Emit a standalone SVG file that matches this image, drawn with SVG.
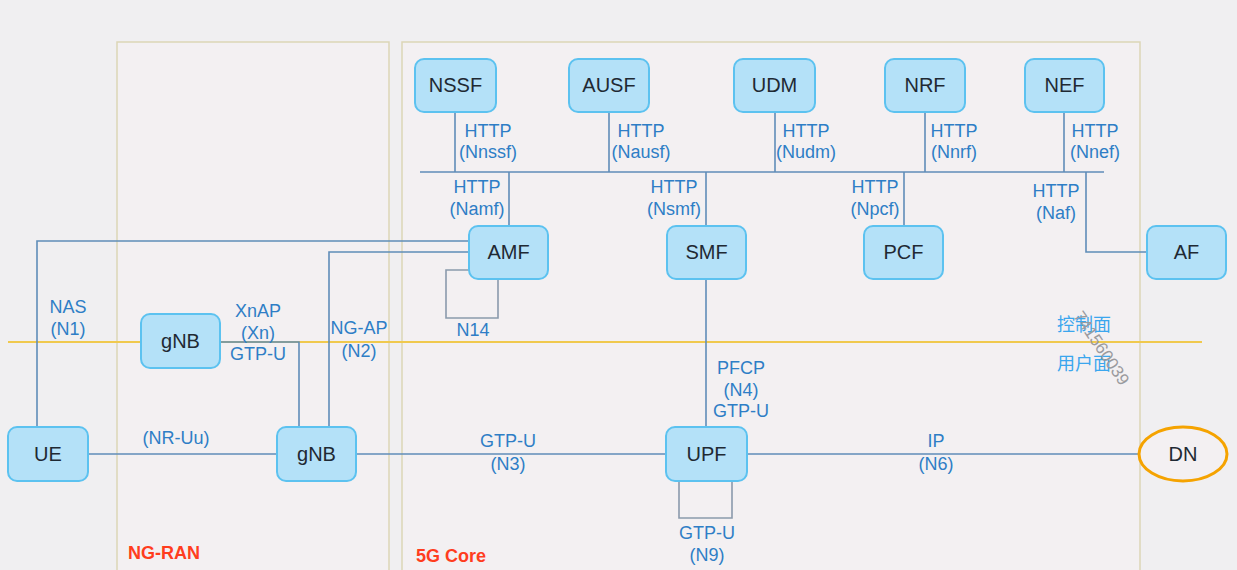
<svg xmlns="http://www.w3.org/2000/svg" width="1237" height="570" viewBox="0 0 1237 570">
<defs>
<style>
.bg{fill:#f0eff1}
.region{fill:#f3f0f2;stroke:#dcd6b6;stroke-width:1.5}
.node rect{fill:#b4e1f8;stroke:#5cc2f0;stroke-width:2}
.node text{font-family:"Liberation Sans",Arial,sans-serif;font-size:20px;fill:#1f2933;text-anchor:middle}
.ln{fill:none;stroke:#5f8db8;stroke-width:1.6}
.ln2{fill:none;stroke:#8a9aac;stroke-width:1.6}
.lbl{font-family:"Liberation Sans",Arial,sans-serif;font-size:18px;fill:#2e7ec6;text-anchor:middle}
.cn{font-family:"Liberation Sans","Noto Sans CJK SC",sans-serif;font-size:18px;fill:#3aa6ee;text-anchor:middle}
.title{font-family:"Liberation Sans",Arial,sans-serif;font-size:18px;font-weight:bold;fill:#ff3d1e}
</style>
</defs>
<rect class="bg" x="0" y="0" width="1237" height="570"/>
<g id="regions">
<rect class="region" x="117" y="42" width="272" height="540"/>
<rect class="region" x="402" y="42" width="738" height="540"/>
<text class="title" x="128" y="559">NG-RAN</text>
<text class="title" x="416" y="562">5G Core</text>
</g>
<g id="plane-divider">
<line x1="8" y1="342" x2="1202" y2="342" stroke="#f0c94e" stroke-width="2"/>
<text class="cn" x="1084" y="331">控制面</text>
<text class="cn" x="1084" y="370">用户面</text>
<text x="1073" y="316" transform="rotate(56 1073 316)" font-family="Liberation Sans,Arial,sans-serif" font-size="17" fill="#9a9a9e">741560039</text>
</g>
<g id="connectors">
<polyline class="ln" points="420,172 1104,172"/>
<line class="ln" x1="455" y1="112" x2="455" y2="172"/>
<line class="ln" x1="609" y1="112" x2="609" y2="172"/>
<line class="ln" x1="775" y1="112" x2="775" y2="172"/>
<line class="ln" x1="925" y1="112" x2="925" y2="172"/>
<line class="ln" x1="1064" y1="112" x2="1064" y2="172"/>
<line class="ln" x1="509" y1="172" x2="509" y2="226"/>
<line class="ln" x1="706" y1="172" x2="706" y2="226"/>
<line class="ln" x1="904" y1="172" x2="904" y2="226"/>
<polyline class="ln" points="1086,172 1086,252 1147,252"/>
<polyline class="ln" points="469,241 37,241 37,427"/>
<polyline class="ln" points="469,252 329,252 329,427"/>
<polyline class="ln2" points="469,270 446,270 446,318 498,318 498,279"/>
<polyline class="ln" points="220,342 299,342 299,427"/>
<line class="ln" x1="88" y1="454" x2="277" y2="454"/>
<line class="ln" x1="356" y1="454" x2="666" y2="454"/>
<line class="ln" x1="747" y1="454" x2="1139" y2="454"/>
<line class="ln" x1="706" y1="279" x2="706" y2="427"/>
<polyline class="ln2" points="679,481 679,518 732,518 732,481"/>
</g>
<g id="labels">
<text class="lbl" x="488" y="137">HTTP</text><text class="lbl" x="488" y="158">(Nnssf)</text>
<text class="lbl" x="641" y="137">HTTP</text><text class="lbl" x="641" y="158">(Nausf)</text>
<text class="lbl" x="806" y="137">HTTP</text><text class="lbl" x="806" y="158">(Nudm)</text>
<text class="lbl" x="954" y="137">HTTP</text><text class="lbl" x="954" y="158">(Nnrf)</text>
<text class="lbl" x="1095" y="137">HTTP</text><text class="lbl" x="1095" y="158">(Nnef)</text>
<text class="lbl" x="477" y="193">HTTP</text><text class="lbl" x="477" y="215">(Namf)</text>
<text class="lbl" x="674" y="193">HTTP</text><text class="lbl" x="674" y="215">(Nsmf)</text>
<text class="lbl" x="875" y="193">HTTP</text><text class="lbl" x="875" y="215">(Npcf)</text>
<text class="lbl" x="1056" y="197">HTTP</text><text class="lbl" x="1056" y="219">(Naf)</text>
<text class="lbl" x="473" y="336">N14</text>
<text class="lbl" x="68" y="313">NAS</text><text class="lbl" x="68" y="335">(N1)</text>
<text class="lbl" x="258" y="317">XnAP</text><text class="lbl" x="258" y="339">(Xn)</text><text class="lbl" x="258" y="360">GTP-U</text>
<text class="lbl" x="359" y="334">NG-AP</text><text class="lbl" x="359" y="357">(N2)</text>
<text class="lbl" x="176" y="444">(NR-Uu)</text>
<text class="lbl" x="508" y="447">GTP-U</text><text class="lbl" x="508" y="470">(N3)</text>
<text class="lbl" x="741" y="374">PFCP</text><text class="lbl" x="741" y="396">(N4)</text><text class="lbl" x="741" y="417">GTP-U</text>
<text class="lbl" x="707" y="539">GTP-U</text><text class="lbl" x="707" y="561">(N9)</text>
<text class="lbl" x="936" y="447">IP</text><text class="lbl" x="936" y="470">(N6)</text>
</g>
<g id="NSSF" class="node"><rect x="415" y="59" width="81" height="53" rx="9"/><text x="455.5" y="92">NSSF</text></g>
<g id="AUSF" class="node"><rect x="569" y="59" width="80" height="53" rx="9"/><text x="609" y="92">AUSF</text></g>
<g id="UDM" class="node"><rect x="734" y="59" width="81" height="53" rx="9"/><text x="774.5" y="92">UDM</text></g>
<g id="NRF" class="node"><rect x="885" y="59" width="80" height="53" rx="9"/><text x="925" y="92">NRF</text></g>
<g id="NEF" class="node"><rect x="1025" y="59" width="79" height="53" rx="9"/><text x="1064.5" y="92">NEF</text></g>
<g id="AMF" class="node"><rect x="469" y="226" width="79" height="53" rx="9"/><text x="508.5" y="259">AMF</text></g>
<g id="SMF" class="node"><rect x="667" y="226" width="79" height="53" rx="9"/><text x="706.5" y="259">SMF</text></g>
<g id="PCF" class="node"><rect x="864" y="226" width="79" height="53" rx="9"/><text x="903.5" y="259">PCF</text></g>
<g id="AF" class="node"><rect x="1147" y="226" width="79" height="53" rx="9"/><text x="1186.5" y="259">AF</text></g>
<g id="gNB-top" class="node"><rect x="141" y="314" width="79" height="54" rx="9"/><text x="180.5" y="348">gNB</text></g>
<g id="UE" class="node"><rect x="8" y="427" width="80" height="54" rx="9"/><text x="48" y="461">UE</text></g>
<g id="gNB" class="node"><rect x="277" y="427" width="79" height="54" rx="9"/><text x="316.5" y="461">gNB</text></g>
<g id="UPF" class="node"><rect x="666" y="427" width="81" height="54" rx="9"/><text x="706.5" y="461">UPF</text></g>
<g id="DN"><ellipse cx="1183" cy="454" rx="44" ry="27" fill="#f3f0f2" stroke="#f5a300" stroke-width="3"/><text x="1183" y="461" text-anchor="middle" font-family="Liberation Sans,Arial,sans-serif" font-size="20" fill="#1f2933">DN</text></g>
</svg>
